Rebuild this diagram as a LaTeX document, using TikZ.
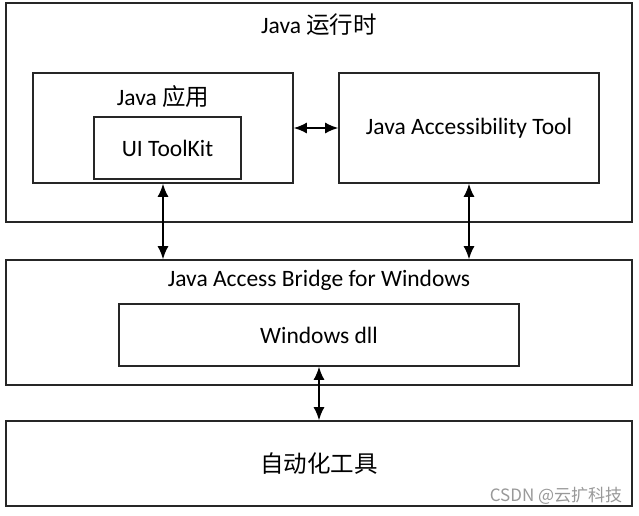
\documentclass[tikz,border=0pt]{standalone}
\usepackage{fontspec}
\setmainfont{Carlito}
\newfontfamily\cjk{Noto Sans CJK SC}
\usetikzlibrary{arrows.meta}
\begin{document}
\begin{tikzpicture}[x=1pt,y=-1pt,
  box/.style={draw=black!85,line width=1.6pt,inner sep=0pt,anchor=center},
  lbl/.style={inner sep=0pt,anchor=center,font=\fontsize{23.5}{28}\selectfont},
  conn/.style={line width=1.6pt,draw=black,{Latex[length=13pt,width=11pt]}-{Latex[length=13pt,width=11pt]}}]
\useasboundingbox (0,0) rectangle (639,515);
\fill[white] (0,0) rectangle (639,515);
% boxes
\node[box,minimum width=626pt,minimum height=219pt] (rt) at (319,112.5) {};
\node[box,minimum width=260pt,minimum height=110pt] (app) at (163,128) {};
\node[box,minimum width=147pt,minimum height=62pt] (ui) at (167.5,148) {};
\node[box,minimum width=260pt,minimum height=110pt] (tool) at (469,128) {};
\node[box,minimum width=626pt,minimum height=125pt] (bridge) at (319,322.5) {};
\node[box,minimum width=400pt,minimum height=62pt] (dll) at (319,335) {};
\node[box,minimum width=626pt,minimum height=85pt] (auto) at (319,463.5) {};
% labels
\node[lbl] (rtl) at (319,25) {Java {\cjk 运行时}};
\node[lbl] (appl) at (163,97) {Java {\cjk 应用}};
\node[lbl] (uil) at (ui.center) {UI ToolKit};
\node[lbl] (tooll) at (tool.center) {Java Accessibility Tool};
\node[lbl] (bridgel) at (319,280) {Java Access Bridge for Windows};
\node[lbl] (dlll) at (dll.center) {Windows dll};
\node[lbl,font=\cjk\fontsize{23.5}{28}\selectfont] (autol) at (auto.center) {自动化工具};
\node[inner sep=0pt,text=black!40,font=\cjk\fontsize{17}{20}\selectfont] (wm) at (556,496) {CSDN @云扩科技};
% connectors
\draw[conn] (app.east) -- (tool.west);
\draw[conn] (app.south) -- (app.south |- bridge.north);
\draw[conn] (tool.south) -- (tool.south |- bridge.north);
\draw[conn] (dll.south) -- (auto.north);
\end{tikzpicture}
\end{document}
